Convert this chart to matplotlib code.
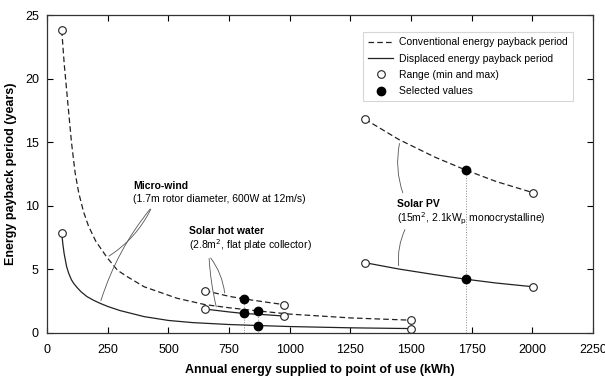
import matplotlib
matplotlib.use("Agg")
import matplotlib.pyplot as plt

plt.rcParams['font.family'] = ['Liberation Sans', 'DejaVu Sans']

# micro-wind
wind_cx = [60, 70, 82, 100, 115, 130, 150, 170, 200, 247, 290, 330, 400, 535, 650, 750, 870, 1000, 1250, 1500]
wind_conv = [23.8, 21.2, 18.7, 15.0, 12.6, 11.0, 9.5, 8.4, 7.2, 5.9, 4.9, 4.4, 3.6, 2.7, 2.2, 1.95, 1.7, 1.45, 1.15, 0.97]
wind_dx = [60, 65, 70, 80, 88, 100, 110, 122, 140, 164, 190, 218, 250, 300, 400, 500, 600, 750, 870, 1000, 1250, 1500]
wind_disp = [7.8, 6.9, 6.2, 5.2, 4.7, 4.15, 3.85, 3.57, 3.2, 2.83, 2.55, 2.3, 2.05, 1.73, 1.25, 0.95, 0.78, 0.63, 0.55, 0.47, 0.37, 0.31]

# solar hot water
shw_x = [650, 750, 810, 900, 975]
shw_conv = [3.3, 2.85, 2.65, 2.4, 2.2]
shw_disp = [1.85, 1.62, 1.5, 1.4, 1.3]

# solar PV
pv_x = [1310, 1450, 1600, 1725, 1850, 2005]
pv_conv = [16.8, 15.2, 13.8, 12.8, 11.9, 11.0]
pv_disp = [5.5, 5.0, 4.55, 4.2, 3.9, 3.6]

# selected values (x, conventional, displaced)
sel_x = [870, 810, 1725]
sel_conv = [1.7, 2.65, 12.8]
sel_disp = [0.55, 1.5, 4.2]

fig = plt.figure(figsize=(6.05, 3.77), dpi=100)
ax = fig.add_axes([0.078, 0.118, 0.902, 0.842])

lc = '#222222'
dash = (0, (4.5, 2.5))
curves = [(wind_cx, wind_conv, wind_dx, wind_disp),
          (shw_x, shw_conv, shw_x, shw_disp),
          (pv_x, pv_conv, pv_x, pv_disp)]
for cx, c, dx, d in curves:
    ax.plot(cx, c, color=lc, lw=0.9, ls=dash)
    ax.plot(dx, d, color=lc, lw=0.9)
    # range end points
    ax.plot([cx[0], cx[-1]], [c[0], c[-1]], 'o', ms=5.5, mfc='white', mec=lc, mew=0.8)
    ax.plot([dx[0], dx[-1]], [d[0], d[-1]], 'o', ms=5.5, mfc='white', mec=lc, mew=0.8)

for x, c, d in zip(sel_x, sel_conv, sel_disp):
    ax.plot([x, x], [0, c], color='#888888', lw=0.7, ls=':', zorder=1)
    ax.plot([x, x], [c, d], 'o', ms=6, color='black')

# legend entries
ax.plot([], [], color=lc, lw=0.9, ls=dash, label='Conventional energy payback period')
ax.plot([], [], color=lc, lw=0.9, label='Displaced energy payback period')
ax.plot([], [], 'o', ms=5.5, mfc='white', mec=lc, mew=0.8, ls='none', label='Range (min and max)')
ax.plot([], [], 'o', ms=6, color='black', ls='none', label='Selected values')
leg = ax.legend(loc='upper right', bbox_to_anchor=(0.963, 0.946), borderaxespad=0, fontsize=7.5,
                frameon=True, fancybox=False, edgecolor='#cccccc', handlelength=2.4,
                handletextpad=0.55, borderpad=0.5, labelspacing=0.6)
leg.get_frame().set_linewidth(0.8)

# annotations
lw_a = 0.6
ac = '#555555'
ax.text(355, 11.3, 'Micro-wind', fontsize=7.5, fontweight='bold')
ax.text(355, 10.25, '(1.7m rotor diameter, 600W at 12m/s)', fontsize=7.5)
ax.annotate('', xy=(245, 5.9), xytext=(432, 9.9),
            arrowprops=dict(arrowstyle='-', color=ac, lw=lw_a, connectionstyle='arc3,rad=-0.15'))
ax.annotate('', xy=(218, 2.3), xytext=(432, 9.9),
            arrowprops=dict(arrowstyle='-', color=ac, lw=lw_a, connectionstyle='arc3,rad=0.1'))

ax.text(585, 7.75, 'Solar hot water', fontsize=7.5, fontweight='bold')
ax.text(585, 6.55, '(2.8m$^2$, flat plate collector)', fontsize=7.5)
ax.annotate('', xy=(733, 2.9), xytext=(667, 6.05),
            arrowprops=dict(arrowstyle='-', color=ac, lw=lw_a, connectionstyle='arc3,rad=-0.15'))
ax.annotate('', xy=(700, 1.8), xytext=(667, 6.05),
            arrowprops=dict(arrowstyle='-', color=ac, lw=lw_a, connectionstyle='arc3,rad=0.05'))

ax.text(1442, 9.9, 'Solar PV', fontsize=7.5, fontweight='bold')
ax.text(1442, 8.7, '(15m$^2$, 2.1kW$_\\mathrm{p}$ monocrystalline)', fontsize=7.5)
ax.annotate('', xy=(1455, 15.1), xytext=(1470, 10.8),
            arrowprops=dict(arrowstyle='-', color=ac, lw=lw_a, connectionstyle='arc3,rad=-0.15'))
ax.annotate('', xy=(1450, 5.05), xytext=(1480, 8.3),
            arrowprops=dict(arrowstyle='-', color=ac, lw=lw_a, connectionstyle='arc3,rad=0.15'))

ax.set_xlim(0, 2250)
ax.set_ylim(0, 25)
ax.set_xticks(range(0, 2251, 250))
ax.set_yticks(range(0, 26, 5))
ax.tick_params(direction='in', top=True, right=True, labelsize=9, length=4, width=0.8)
ax.tick_params(axis='x', pad=8)
ax.tick_params(axis='y', pad=6)
for s in ax.spines.values():
    s.set_linewidth(0.9)
    s.set_color('#333333')
ax.set_xlabel('Annual energy supplied to point of use (kWh)', fontsize=9, fontweight='bold', labelpad=6)
ax.set_ylabel('Energy payback period (years)', fontsize=9, fontweight='bold', labelpad=6)

fig.savefig('out.png', dpi=100)
